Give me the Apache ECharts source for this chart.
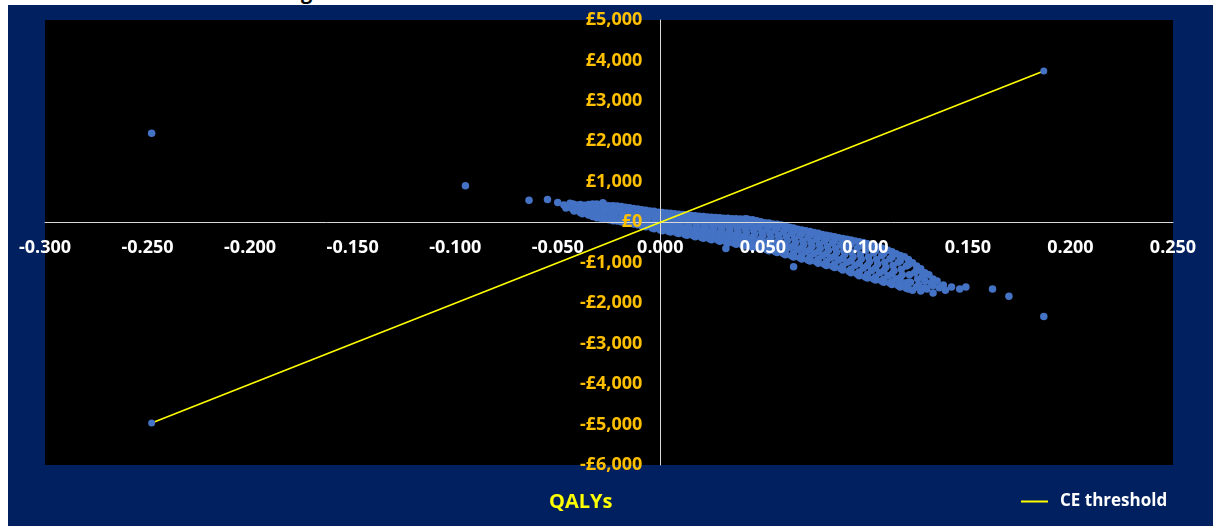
<!DOCTYPE html>
<html>
<head>
<meta charset="utf-8">
<script src="https://cdn.jsdelivr.net/npm/echarts@6/dist/echarts.min.js"></script>
<style>
html,body{margin:0;padding:0;background:#fff;width:1213px;height:526px;overflow:hidden;position:relative;}
#title{position:absolute;left:301px;top:-18px;font:bold 20px/20px 'Open Sans',sans-serif;color:#000;z-index:1;}
#chart{position:absolute;left:8px;top:5px;width:1205px;height:521px;z-index:2;}
</style>
</head>
<body>
<div id="title">g</div>
<div id="chart"></div>
<script>
// ---- data ----
const xTicks = { min: -0.3, max: 0.25, interval: 0.05 };
const yTicks = { min: -6000, max: 5000, interval: 1000 };
const xAxisTitle = 'QALYs';
const lineName = 'CE threshold';

// CE threshold line endpoints [QALY, cost]
const thresholdLine = [[-0.248, -4960], [0.187, 3740]];

// isolated simulation points
const outlierPoints = [
  [-0.248, 2200], [-0.095, 900], [-0.064, 544], [-0.055, 561], [-0.050, 490],
  [-0.047, 430], [-0.046, 350], [-0.042, 290], [-0.039, 250], [-0.028, 480],
  [0.032, -650], [0.042, 90], [0.065, -1100], [0.117, -840], [0.128, -1290],
  [0.133, -1750], [0.162, -1650], [0.170, -1830], [0.187, -2330]
];

// main cloud of simulation points
const cloudPoints = [
  [-0.044,470],[-0.043,340],
  [-0.041,430],[-0.040,300],
  [-0.037,420],[-0.036,300],[-0.038,210],
  [-0.033,450],[-0.034,340],[-0.032,230],[-0.033,140],
  [-0.029,440],[-0.028,330],[-0.030,210],[-0.029,100],
  [-0.025,410],[-0.026,300],[-0.024,180],[-0.025,60],
  [-0.021,400],[-0.020,280],[-0.022,150],[-0.021,30],
  [-0.017,370],[-0.018,250],[-0.016,120],[-0.017,0],
  [-0.013,340],[-0.012,220],[-0.014,90],[-0.013,-40],
  [-0.009,310],[-0.010,190],[-0.008,60],[-0.009,-90],
  [-0.005,280],[-0.004,160],[-0.006,30],[-0.005,-80],[-0.004,-140],
  [-0.001,250],[0.000,130],[-0.002,10],[-0.001,-100],[0.000,-190],
  [0.003,230],[0.004,110],[0.002,-10],[0.003,-120],[0.004,-220],
  [0.007,210],[0.008,90],[0.006,-40],[0.007,-150],[0.008,-260],
  [0.011,190],[0.012,70],[0.010,-60],[0.011,-180],[0.012,-300],
  [0.015,170],[0.016,50],[0.014,-80],[0.015,-210],[0.016,-330],
  [0.019,150],[0.020,30],[0.018,-100],[0.019,-240],[0.020,-370],
  [0.023,130],[0.024,10],[0.022,-130],[0.023,-270],[0.024,-410],
  [0.027,120],[0.028,-10],[0.026,-150],[0.027,-300],[0.028,-440],
  [0.031,100],[0.032,-40],[0.030,-180],[0.031,-330],[0.032,-480],
  [0.035,90],[0.036,-60],[0.034,-210],[0.035,-360],[0.036,-520],
  [0.039,80],[0.040,-80],[0.038,-240],[0.039,-400],[0.040,-560],
  [0.043,70],[0.044,-100],[0.042,-260],[0.043,-430],[0.044,-600],
  [0.047,40],[0.048,-120],[0.046,-290],[0.047,-460],[0.048,-640],
  [0.051,-10],[0.052,-170],[0.050,-330],[0.051,-500],[0.052,-680],
  [0.055,-40],[0.056,-200],[0.054,-370],[0.055,-540],[0.056,-720],
  [0.059,-70],[0.060,-240],[0.058,-410],[0.059,-580],[0.060,-770],
  [0.063,-120],[0.064,-280],[0.062,-450],[0.063,-620],[0.064,-830],
  [0.067,-170],[0.068,-330],[0.066,-500],[0.067,-670],[0.068,-880],
  [0.071,-210],[0.072,-380],[0.070,-550],[0.071,-720],[0.072,-930],
  [0.075,-250],[0.076,-420],[0.074,-590],[0.075,-770],[0.076,-970],
  [0.079,-300],[0.080,-470],[0.078,-640],[0.079,-820],[0.080,-1040],
  [0.083,-340],[0.084,-510],[0.082,-690],[0.083,-880],[0.084,-1090],
  [0.087,-380],[0.088,-560],[0.086,-740],[0.087,-930],[0.088,-1140],
  [0.091,-420],[0.092,-600],[0.090,-790],[0.091,-990],[0.092,-1210],
  [0.095,-460],[0.096,-650],[0.094,-850],[0.095,-1060],[0.096,-1280],
  [0.099,-500],[0.100,-700],[0.098,-910],[0.099,-1130],[0.100,-1350],
  [0.103,-560],[0.104,-760],[0.102,-970],[0.103,-1190],[0.104,-1400],
  [0.107,-620],[0.108,-820],[0.106,-1030],[0.107,-1250],[0.108,-1450],
  [0.111,-690],[0.112,-900],[0.110,-1110],[0.111,-1320],[0.112,-1500],
  [0.115,-780],[0.116,-990],[0.114,-1200],[0.115,-1400],[0.116,-1560],
  [0.119,-850],[0.120,-1080],[0.118,-1300],[0.119,-1500],[0.120,-1630],
  [0.123,-1000],[0.124,-1250],[0.122,-1480],[0.123,-1680],
  [0.127,-1150],[0.128,-1350],[0.126,-1550],[0.127,-1700],
  [0.131,-1300],[0.132,-1500],[0.130,-1650],
  [0.135,-1450],[0.136,-1620],
  [0.138,-1550],[0.139,-1680],
  [0.142,-1600],[0.146,-1650],[0.149,-1600]
];

// further points filling the dense part of the cloud
const cloudPointsDense = [
  [-0.0425,450],[-0.0415,360],[-0.042,280],
  [-0.039,440],[-0.0385,330],[-0.039,250],
  [-0.035,440],[-0.035,360],[-0.0345,260],[-0.035,180],
  [-0.031,450],[-0.031,380],[-0.0305,270],[-0.031,170],[-0.031,110],
  [-0.027,430],[-0.027,360],[-0.0275,250],[-0.027,130],[-0.027,80],
  [-0.023,410],[-0.023,340],[-0.0225,220],[-0.023,100],[-0.023,40],
  [-0.019,390],[-0.019,310],[-0.0185,190],[-0.019,70],[-0.019,10],
  [-0.015,360],[-0.015,290],[-0.0145,160],[-0.015,40],[-0.015,-20],
  [-0.011,330],[-0.011,260],[-0.0105,130],[-0.011,10],[-0.011,-60],
  [-0.007,300],[-0.007,230],[-0.0065,100],[-0.007,-20],[-0.007,-110],
  [-0.003,270],[-0.003,200],[-0.0025,70],[-0.003,-40],[-0.003,-160],
  [0.001,240],[0.001,170],[0.0015,50],[0.001,-60],[0.001,-150],[0.001,-210],
  [0.005,220],[0.005,150],[0.0055,30],[0.005,-80],[0.005,-190],[0.005,-240],
  [0.009,200],[0.009,130],[0.0095,10],[0.009,-100],[0.009,-220],[0.009,-280],
  [0.013,180],[0.013,110],[0.0135,-15],[0.013,-140],[0.013,-260],[0.013,-320],
  [0.017,160],[0.017,90],[0.0175,-35],[0.017,-170],[0.017,-300],[0.017,-355],
  [0.021,140],[0.021,70],[0.0215,-60],[0.021,-200],[0.021,-340],[0.021,-395],
  [0.025,125],[0.025,50],[0.0255,-80],[0.025,-220],[0.025,-370],[0.025,-430],
  [0.029,110],[0.029,30],[0.0295,-110],[0.029,-250],[0.029,-400],[0.029,-470],
  [0.033,100],[0.033,10],[0.0335,-130],[0.033,-280],[0.033,-430],[0.033,-510],
  [0.037,90],[0.037,-10],[0.0375,-150],[0.037,-310],[0.037,-470],[0.037,-545],
  [0.041,80],[0.041,-20],[0.0415,-170],[0.041,-340],[0.041,-510],[0.041,-585],
  [0.045,60],[0.045,-40],[0.0455,-200],[0.045,-370],[0.045,-540],[0.045,-625],
  [0.049,10],[0.049,-70],[0.0495,-240],[0.049,-410],[0.049,-580],[0.049,-665],
  [0.053,-20],[0.053,-100],[0.0535,-280],[0.053,-450],[0.053,-620],[0.053,-705],
  [0.057,-50],[0.057,-140],[0.0575,-320],[0.057,-490],[0.057,-660],[0.057,-750],
  [0.061,-90],[0.061,-180],[0.0615,-360],[0.061,-530],[0.061,-710],[0.061,-805],
  [0.065,-140],[0.065,-230],[0.0655,-410],[0.065,-580],[0.065,-760],[0.065,-860],
  [0.069,-190],[0.069,-280],[0.0695,-460],[0.069,-630],[0.069,-810],[0.069,-910],
  [0.073,-230],[0.073,-320],[0.0735,-500],[0.073,-680],[0.073,-860],[0.073,-955],
  [0.077,-270],[0.077,-370],[0.0775,-550],[0.077,-730],[0.077,-920],[0.077,-1010],
  [0.081,-320],[0.081,-410],[0.0815,-600],[0.081,-780],[0.081,-970],[0.081,-1070],
  [0.085,-360],[0.085,-460],[0.0855,-650],[0.085,-840],[0.085,-1030],[0.085,-1120],
  [0.089,-400],[0.089,-500],[0.0895,-700],[0.089,-890],[0.089,-1090],[0.089,-1180],
  [0.093,-440],[0.093,-540],[0.0935,-750],[0.093,-950],[0.093,-1160],[0.093,-1250],
  [0.097,-480],[0.097,-590],[0.0975,-800],[0.097,-1010],[0.097,-1230],[0.097,-1320],
  [0.101,-530],[0.101,-640],[0.1015,-860],[0.101,-1070],[0.101,-1290],[0.101,-1380],
  [0.105,-590],[0.105,-700],[0.1055,-920],[0.105,-1130],[0.105,-1350],[0.105,-1430],
  [0.109,-650],[0.109,-770],[0.1095,-990],[0.109,-1200],[0.109,-1410],[0.109,-1480],
  [0.113,-730],[0.113,-860],[0.1135,-1070],[0.113,-1280],[0.113,-1470],[0.113,-1540],
  [0.117,-820],[0.117,-950],[0.1175,-1160],[0.117,-1370],[0.117,-1540],[0.117,-1600],
  [0.121,-920],[0.121,-1050],[0.1215,-1300],[0.121,-1480],[0.121,-1650],
  [0.125,-1080],[0.125,-1200],[0.1255,-1400],[0.125,-1600],
  [0.129,-1250],[0.129,-1450],[0.129,-1620],
  [0.133,-1400],[0.133,-1560]
];

// ---- chart ----
const FONT = "'Open Sans', sans-serif";
const chart = echarts.init(document.getElementById('chart'));
const fmtCost = v => (v < 0 ? '-' : '') + '£' + Math.abs(Math.round(v)).toLocaleString('en-GB');
const fmtQ = v => (Math.abs(v) < 1e-9 ? 0 : v).toFixed(3);

const GRID = { left: 37, top: 15, right: 40, bottom: 61 };
const plotW = 1205 - GRID.left - GRID.right;
const plotH = 521 - GRID.top - GRID.bottom;
// place the axes through zero (axes crossing at the origin)
const yAxisOffset = -plotW * (0 - xTicks.min) / (xTicks.max - xTicks.min);
const xAxisOffset = -plotH * (0 - yTicks.min) / (yTicks.max - yTicks.min);

chart.setOption({
  backgroundColor: '#002060',
  animation: false,
  textStyle: { fontFamily: FONT },
  grid: Object.assign({ show: true, backgroundColor: '#000000', borderWidth: 0, containLabel: false, outerBoundsMode: 'none' }, GRID),
  legend: {
    data: [{ name: lineName, icon: 'rect', itemStyle: { color: '#FFFF00' } }],
    left: 1008, top: 483,
    itemWidth: 27, itemHeight: 2, itemGap: 10,
    textStyle: { color: '#FFFFFF', fontSize: 17, fontWeight: 'bold', fontFamily: FONT, padding: [0, 0, 0, 7] }
  },
  graphic: [{
    type: 'text', left: 580 - 8 - 31, top: 504 - 5 - 12,
    style: { text: xAxisTitle, fill: '#FFFF00', font: "bold 20px 'Open Sans', sans-serif" }
  }],
  xAxis: {
    type: 'value', position: 'bottom', offset: xAxisOffset,
    min: xTicks.min, max: xTicks.max, interval: xTicks.interval, z: 5,
    axisLine: { onZero: false, lineStyle: { color: '#D9D9D9', width: 1 } },
    axisTick: { show: false }, splitLine: { show: false },
    axisLabel: { color: '#FFFFFF', fontSize: 18, fontWeight: 'bold', fontFamily: FONT, margin: 17, formatter: fmtQ, showMinLabel: true, showMaxLabel: true, hideOverlap: false }
  },
  yAxis: {
    type: 'value', position: 'left', offset: yAxisOffset,
    min: yTicks.min, max: yTicks.max, interval: yTicks.interval, z: 5,
    axisLine: { onZero: false, lineStyle: { color: '#D9D9D9', width: 1 } },
    axisTick: { show: false }, splitLine: { show: false },
    axisLabel: { color: '#FFC000', fontSize: 18, fontWeight: 'bold', fontFamily: FONT, margin: 18, formatter: fmtCost, showMinLabel: true, showMaxLabel: true, hideOverlap: false }
  },
  series: [
    {
      name: 'Simulations', type: 'scatter', z: 2, symbolSize: 7.5,
      itemStyle: { color: '#4472C4', opacity: 1 },
      data: cloudPoints.concat(cloudPointsDense, outlierPoints)
    },
    {
      name: lineName, type: 'line', z: 6, symbol: 'circle', symbolSize: 7, showSymbol: true,
      itemStyle: { color: '#4472C4' },
      lineStyle: { color: '#FFFF00', width: 1.6 },
      data: thresholdLine
    }
  ]
});
</script>
</body>
</html>
